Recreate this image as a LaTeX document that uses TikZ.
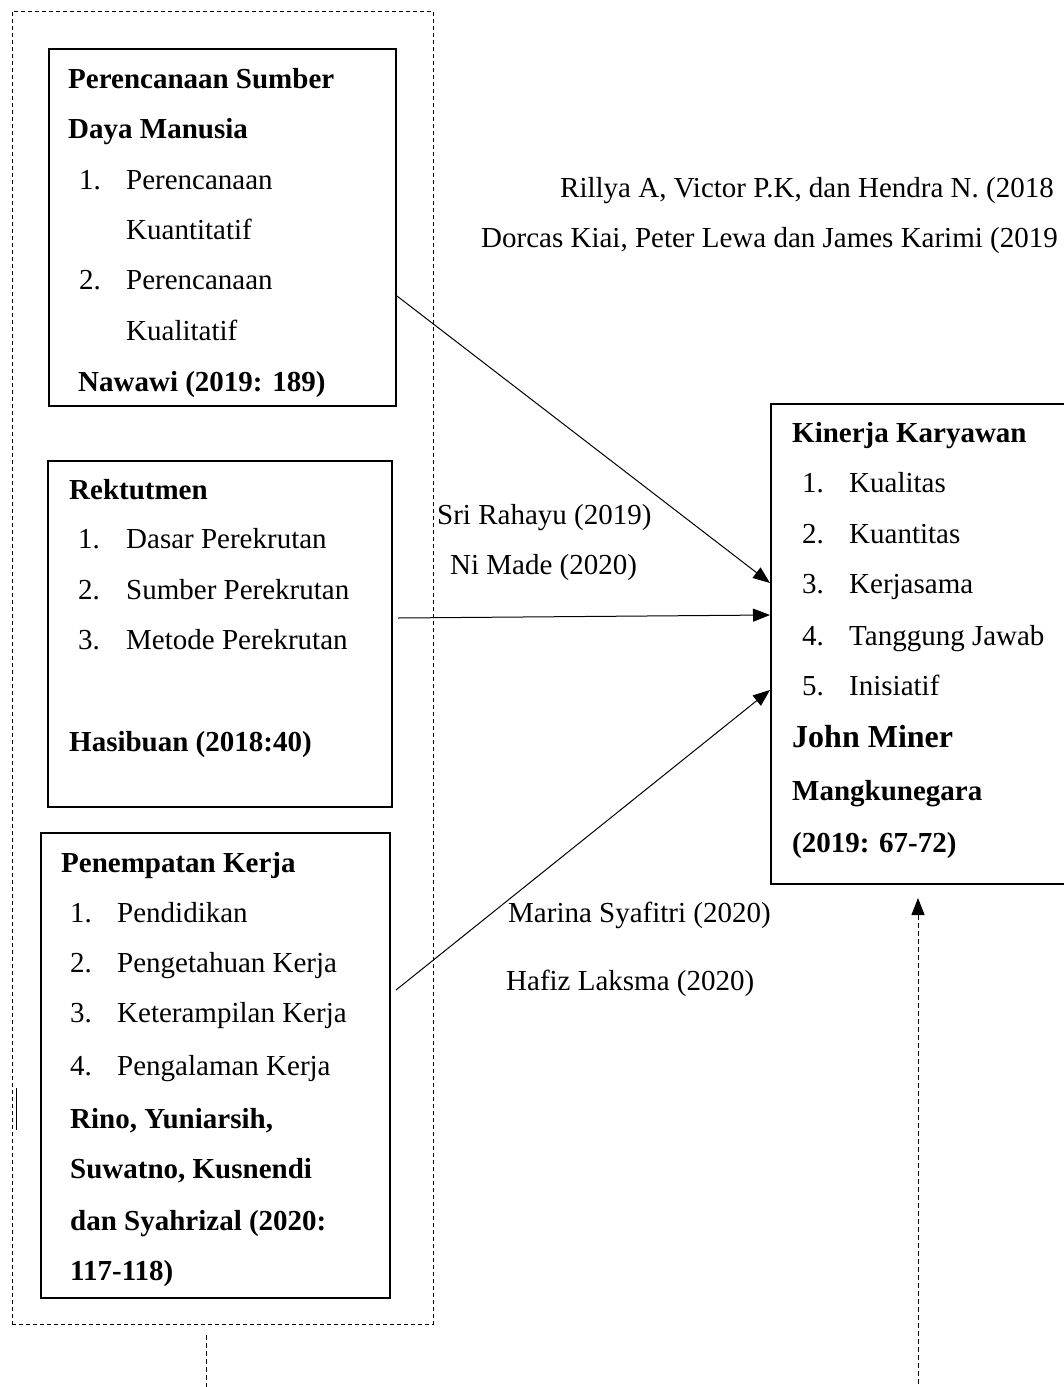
\documentclass[tikz,border=0pt]{standalone}
\usepackage{fontspec}
\setmainfont{Liberation Serif}
\usetikzlibrary{arrows.meta}
\begin{document}
\begin{tikzpicture}[x=1pt,y=-1pt,
  box/.style={draw, line width=2pt, inner sep=0pt, anchor=north west},
  grpbox/.style={draw, line width=0.9pt, dash pattern=on 4pt off 3pt, inner sep=0pt, anchor=north west},
  txt/.style={anchor=base west, inner sep=0pt, font=\fontsize{29}{35}\selectfont},
  btxt/.style={anchor=base west, inner sep=0pt, font=\fontsize{29}{35}\selectfont\bfseries},
  bigtxt/.style={anchor=base west, inner sep=0pt, font=\fontsize{32}{38}\selectfont\bfseries},
  arr/.style={line width=1pt, -{Triangle[length=17pt,width=13pt]}},
  darr/.style={line width=1pt, dash pattern=on 5pt off 3pt, -{Triangle[length=17pt,width=13pt]}},
  dline/.style={line width=1pt, dash pattern=on 5pt off 3pt}]
\useasboundingbox (0,0) rectangle (1064,1387);
\clip (0,0) rectangle (1064,1387);

% outer dashed group
\node[grpbox, minimum width=421pt, minimum height=1313pt] (grp) at (12,11) {};
\draw[line width=1pt] (16.5,1088) -- (16.5,1130);

% box 1
\node[box, minimum width=347pt, minimum height=357pt] (b1) at (48,48) {};
\node[btxt] (b1h1) at (68,88) {Perencanaan Sumber};
\node[btxt] (b1h2) at (68,138) {Daya Manusia};
\node[txt] (b1n1) at (79,189) {1.};
\node[txt] (b1i1) at (126,189) {Perencanaan};
\node[txt] (b1i1b) at (126,239) {Kuantitatif};
\node[txt] (b1n2) at (79,289) {2.};
\node[txt] (b1i2) at (126,289) {Perencanaan};
\node[txt] (b1i2b) at (126,340) {Kualitatif};
\node[btxt] (b1s) at (78,391) {Nawawi (2019: 189)};

% box 2
\node[box, minimum width=344pt, minimum height=346pt] (b2) at (47,460) {};
\node[btxt] (b2h) at (69,499) {Rektutmen};
\node[txt] (b2n1) at (78,548) {1.};
\node[txt] (b2i1) at (126,548) {Dasar Perekrutan};
\node[txt] (b2n2) at (78,599) {2.};
\node[txt] (b2i2) at (126,599) {Sumber Perekrutan};
\node[txt] (b2n3) at (78,649) {3.};
\node[txt] (b2i3) at (126,649) {Metode Perekrutan};
\node[btxt] (b2s) at (69,751) {Hasibuan (2018:40)};

% box 3
\node[box, minimum width=349pt, minimum height=465pt] (b3) at (40,832) {};
\node[btxt] (b3h) at (61,872) {Penempatan Kerja};
\node[txt] (b3n1) at (70,922) {1.};
\node[txt] (b3i1) at (117,922) {Pendidikan};
\node[txt] (b3n2) at (70,972) {2.};
\node[txt] (b3i2) at (117,972) {Pengetahuan Kerja};
\node[txt] (b3n3) at (70,1022) {3.};
\node[txt] (b3i3) at (117,1022) {Keterampilan Kerja};
\node[txt] (b3n4) at (70,1075) {4.};
\node[txt] (b3i4) at (117,1075) {Pengalaman Kerja};
\node[btxt] (b3s1) at (70,1128) {Rino, Yuniarsih,};
\node[btxt] (b3s2) at (70,1178) {Suwatno, Kusnendi};
\node[btxt] (b3s3) at (70,1230) {dan Syahrizal (2020:};
\node[btxt] (b3s4) at (70,1280) {117-118)};

% box 4
\node[box, minimum width=320pt, minimum height=480pt] (b4) at (770,403) {};
\node[btxt] (b4h) at (792,442) {Kinerja Karyawan};
\node[txt] (b4n1) at (802,492) {1.};
\node[txt] (b4i1) at (849,492) {Kualitas};
\node[txt] (b4n2) at (802,543) {2.};
\node[txt] (b4i2) at (849,543) {Kuantitas};
\node[txt] (b4n3) at (802,593) {3.};
\node[txt] (b4i3) at (849,593) {Kerjasama};
\node[txt] (b4n4) at (802,645) {4.};
\node[txt] (b4i4) at (849,645) {Tanggung Jawab};
\node[txt] (b4n5) at (802,695) {5.};
\node[txt] (b4i5) at (849,695) {Inisiatif};
\node[bigtxt] (b4s1) at (792,747) {John Miner};
\node[btxt] (b4s2) at (792,800) {Mangkunegara};
\node[btxt] (b4s3) at (792,852) {(2019: 67-72)};

% connector labels
\node[txt] (l1a) at (560,197) {Rillya A, Victor P.K, dan Hendra N. (2018};
\node[txt] (l1b) at (481,247) {Dorcas Kiai, Peter Lewa dan James Karimi (2019};
\node[txt] (l2a) at (437,524) {Sri Rahayu (2019)};
\node[txt] (l2b) at (450,574) {Ni Made (2020)};
\node[txt] (l3a) at (508,922) {Marina Syafitri (2020)};
\node[txt] (l3b) at (506,990) {Hafiz Laksma (2020)};

% connectors
\draw[arr] (b1.east |- 0,296) -- (b4.west |- 0,583);
\draw[arr] ([xshift=5pt]b2.east |- 0,618) -- (b4.west |- 0,615);
\draw[arr] ([xshift=5pt]b3.east |- 0,990) -- (b4.west |- 0,690);

\coordinate (upfoot) at (918,1392);
\draw[darr, shorten >=13pt] (upfoot) -- (b4.south -| upfoot);

\coordinate (dnfoot) at (206,1392);
\draw[dline, shorten <=10pt] (grp.south -| dnfoot) -- (dnfoot);
\end{tikzpicture}
\end{document}
